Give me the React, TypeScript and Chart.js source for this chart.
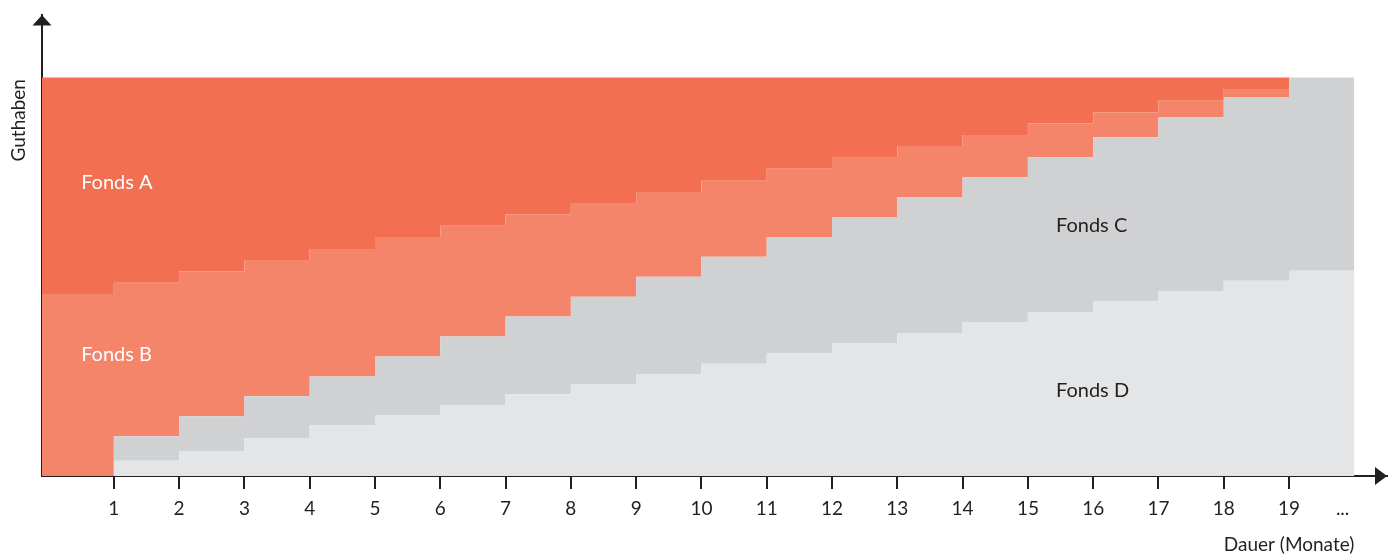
import React, { useEffect, useRef } from "react";
import { Chart, registerables } from "chart.js";

Chart.register(...registerables);

// Months with a tick label (each step starts at one of these)
const months = [1, 2, 3, 4, 5, 6, 7, 8, 9, 10, 11, 12, 13, 14, 15, 16, 17, 18, 19];
const dotsLabel = "...";

// Share of the balance per fund for each period (period 0 = before month 1), in %
const fondsD = [0, 3.8, 6.3, 9.5, 12.7, 15.3, 17.8, 20.5, 23.0, 25.6, 28.2, 30.8, 33.3, 35.9, 38.5, 41.1, 43.8, 46.4, 49.0, 51.5];
const fondsC = [0, 6.2, 8.7, 10.5, 12.3, 14.7, 17.2, 19.5, 22.0, 24.4, 26.8, 29.2, 31.7, 34.1, 36.5, 38.9, 41.2, 43.6, 46.0, 48.5];
const fondsB = [45.7, 38.5, 36.4, 34.2, 32.0, 30.0, 27.8, 25.7, 23.5, 21.3, 19.1, 17.1, 14.9, 12.8, 10.6, 8.5, 6.3, 4.2, 2.1, 0];
const fondsA = [54.3, 51.5, 48.6, 45.8, 43.0, 40.0, 37.2, 34.3, 31.5, 28.7, 25.9, 22.9, 20.1, 17.2, 14.4, 11.5, 8.7, 5.8, 2.9, 0];

const seriesNames = ["Fonds D", "Fonds C", "Fonds B", "Fonds A"];

// scale layout
const X_MIN = -0.1;
const X_MAX = 20.5;
const END_MONTH = 20;
const DOTS_AT = 19.82;
const Y_MAX = 115.7;

const TEXT = "#231f20";
const FONT = "Lato, 'DejaVu Sans', sans-serif";
const COLORS = ["#e4e5e7", "#d0d1d3", "#f5856a", "#f26f51"];

// label anchors (data space)
const seriesLabels = [
  { text: "Fonds A", x: 0.5, y: 72.1, color: "#ffffff" },
  { text: "Fonds B", x: 0.5, y: 28.9, color: "#ffffff" },
  { text: "Fonds C", x: 15.43, y: 61.3, color: TEXT },
  { text: "Fonds D", x: 15.43, y: 19.9, color: TEXT },
];

const periodStarts = [X_MIN, ...months];

function toPoints(values: number[]) {
  const pts = periodStarts.map((x, i) => ({ x, y: values[i] }));
  pts.push({ x: END_MONTH, y: values[values.length - 1] });
  return pts;
}

const decorPlugin = {
  id: "decor",
  afterDraw(chart: any) {
    const { ctx, chartArea, scales } = chart;
    const { left, right, top, bottom } = chartArea;
    ctx.save();
    ctx.fillStyle = TEXT;
    // x arrow
    ctx.beginPath();
    ctx.moveTo(right, bottom);
    ctx.lineTo(right - 12, bottom - 9);
    ctx.lineTo(right - 12, bottom + 9);
    ctx.closePath();
    ctx.fill();
    // y arrow
    ctx.beginPath();
    ctx.moveTo(left, top);
    ctx.lineTo(left - 9.5, top + 10.5);
    ctx.lineTo(left + 9.5, top + 10.5);
    ctx.closePath();
    ctx.fill();

    // axis titles
    ctx.font = `19px ${FONT}`;
    ctx.textBaseline = "alphabetic";
    ctx.textAlign = "right";
    ctx.fillText("Dauer (Monate)", scales.x.getPixelForValue(END_MONTH), 551);
    ctx.save();
    ctx.translate(25, scales.y.getPixelForValue(100) + 1.5);
    ctx.rotate(-Math.PI / 2);
    ctx.textAlign = "right";
    ctx.fillText("Guthaben", 0, 0);
    ctx.restore();

    // series labels
    ctx.font = `20px ${FONT}`;
    ctx.textAlign = "left";
    for (const l of seriesLabels) {
      ctx.fillStyle = l.color;
      ctx.fillText(l.text, scales.x.getPixelForValue(l.x), scales.y.getPixelForValue(l.y));
    }
    ctx.restore();
  },
};

export default function App() {
  const ref = useRef<HTMLCanvasElement>(null);
  useEffect(() => {
    const series = [fondsD, fondsC, fondsB, fondsA];
    const chart = new Chart(ref.current!, {
      type: "line",
      data: {
        datasets: series.map((vals, i) => ({
          label: seriesNames[i],
          data: toPoints(vals),
          stepped: "before" as const,
          fill: i === 0 ? "origin" : "-1",
          backgroundColor: COLORS[i],
          borderColor: "rgba(0,0,0,0)",
          borderWidth: 0,
          pointRadius: 0,
          pointHoverRadius: 0,
        })),
      },
      options: {
        animation: false,
        responsive: true,
        maintainAspectRatio: false,
        layout: { padding: { top: 15, right: 8, left: 0, bottom: 0 } },
        plugins: { legend: { display: false }, tooltip: { enabled: false } },
        scales: {
          x: {
            type: "linear",
            min: X_MIN,
            max: X_MAX,
            afterFit: (s: any) => {
              s.height = 80;
            },
            afterBuildTicks: (s: any) => {
              s.ticks = [...months.map((v) => ({ value: v })), { value: DOTS_AT }];
            },
            ticks: {
              autoSkip: false,
              maxRotation: 0,
              minRotation: 0,
              padding: 8,
              color: TEXT,
              font: { family: FONT, size: 19 },
              callback: (v: any) => (v === DOTS_AT ? dotsLabel : String(v)),
            },
            grid: {
              drawOnChartArea: false,
              drawTicks: true,
              tickLength: 13,
              lineWidth: 2,
              color: (c: any) => (c.tick && c.tick.value === DOTS_AT ? "rgba(0,0,0,0)" : TEXT),
            },
            border: { display: true, color: TEXT, width: 2 },
          },
          y: {
            stacked: true,
            min: 0,
            max: Y_MAX,
            afterFit: (s: any) => {
              s.width = 42;
            },
            ticks: { display: false },
            grid: { drawOnChartArea: false, drawTicks: false },
            border: { display: true, color: TEXT, width: 2 },
          },
        },
      },
      plugins: [decorPlugin],
    });
    return () => chart.destroy();
  }, []);
  return (
    <div style={{ position: "absolute", left: 0, top: 0, width: 1395, height: 556 }}>
      <canvas ref={ref} />
    </div>
  );
}
